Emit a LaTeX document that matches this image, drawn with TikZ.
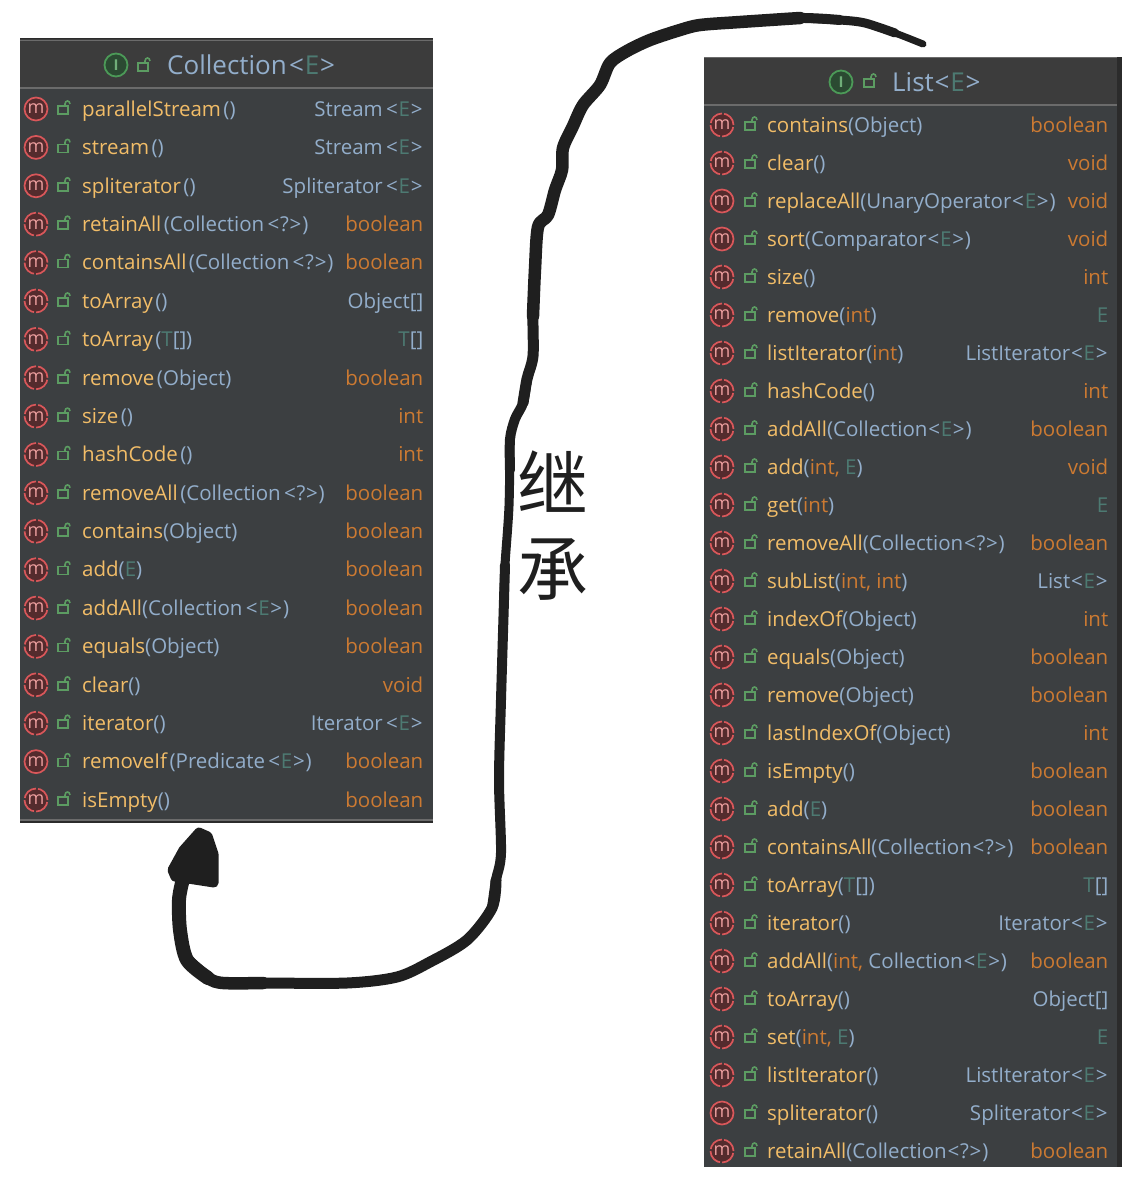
\documentclass[tikz,border=0pt]{standalone}
\usepackage{fontspec}
\setmainfont{Open Sans}
\newfontfamily\cjkfont{Noto Sans CJK SC}
\definecolor{hdrbg}{HTML}{3C3C3C}
\definecolor{bodybg}{HTML}{3C3F41}
\definecolor{rulegrey}{HTML}{6B6B6B}
\definecolor{edgedark}{HTML}{2B2B2B}
\definecolor{nmcol}{HTML}{F2BD68}
\definecolor{prcol}{HTML}{93AECB}
\definecolor{ecol}{HTML}{4D7A72}
\definecolor{rtcol}{HTML}{CC7A32}
\definecolor{ringred}{HTML}{D9575A}
\definecolor{fillred}{HTML}{542B2D}
\definecolor{mred}{HTML}{EC9E9E}
\definecolor{lockgreen}{HTML}{5C9C62}
\definecolor{ringgreen}{HTML}{4C9A58}
\definecolor{fillgreen}{HTML}{2B4A32}
\definecolor{inkblack}{HTML}{1F1F1F}
\newcommand{\nm}[1]{\textcolor{nmcol}{#1}}
\newcommand{\EE}{\textcolor{ecol}{E}}
\newcommand{\TT}{\textcolor{ecol}{T}}
\newcommand{\rt}[1]{\textcolor{rtcol}{#1}}
\newcommand{\ssp}{\kern2.5pt}
\newcommand{\LA}{\kern.8pt<\kern.8pt}
\newcommand{\RA}{\kern.8pt>\kern.8pt}
\newcommand{\lockat}[2]{%
  \draw[lockst] (#1-5,#2-2) rectangle (#1+5,#2+6);
  \draw[lockst] (#1+2,#2-2) -- (#1+2,#2-4) .. controls (#1+2,#2-8) and (#1+7,#2-8) .. (#1+7,#2-4);
}
\tikzset{
  x=1pt,y=-1pt,
  lockst/.style={draw=lockgreen,line width=1.6pt},
  panelbody/.style={fill=bodybg,draw=none},
  panelhead/.style={fill=hdrbg,draw=none},
  divider/.style={draw=rulegrey,line width=1.5pt},
  edgeline/.style={draw=edgedark,line width=1.5pt},
  rowtext/.style={anchor=base west,inner sep=0pt,text=prcol,font=\fontsize{20.5}{21}\selectfont},
  rettext/.style={anchor=base east,inner sep=0pt,text=prcol,font=\fontsize{20.5}{21}\selectfont},
  titletext/.style={inner sep=0pt,text=prcol,font=\fontsize{26}{26}\selectfont},
  mbase/.style={circle,minimum size=23pt,inner sep=0pt,fill=fillred,text=mred,font=\fontsize{18}{18}\selectfont,line width=1.7pt,draw=ringred},
  msolid/.style={mbase},
  mdash/.style={mbase,dash pattern=on 15.8pt off 2.2pt},
  ibadge/.style={circle,minimum size=23pt,inner sep=0pt,fill=fillgreen,draw=ringgreen,line width=1.8pt,text=ringgreen!80!white,font=\fontsize{15}{15}\selectfont\bfseries},
  inkline/.style={draw=inkblack,line cap=round,line join=round},
  wordtext/.style={inner sep=0pt,text=inkblack,align=center,font=\fontsize{71}{85}\cjkfont},
}
\begin{document}
\begin{tikzpicture}
\useasboundingbox (0,0) rectangle (1141,1187);
\fill[white] (0,0) rectangle (1141,1187);

% ---------- Collection panel
\fill[panelbody] (20,88) rectangle (433,822);
\fill[panelhead] (20,39) rectangle (433,88);
\draw[edgeline] (20,38.5) -- (433,38.5);
\draw[divider] (20,40.5) -- (433,40.5);
\draw[divider] (20,88) -- (433,88);
\draw[divider] (20,820) -- (433,820);
\draw[edgeline] (20,822) -- (433,822);
\node[ibadge] (cicon) at (116,65) {I};
\lockat{143}{65}
\node[titletext,anchor=base west] (ctitle) at (167,74.5) {Collection\kern1.5pt\LA\EE\RA};

\foreach \k/\t/\r [count=\i] in {
 msolid/{\nm{parallelStream}\ssp()}/{Stream\ssp\LA\EE\RA},
 msolid/{\nm{stream}\ssp()}/{Stream\ssp\LA\EE\RA},
 msolid/{\nm{spliterator}\ssp()}/{Spliterator\ssp\LA\EE\RA},
 mdash/{\nm{retainAll}\ssp(Collection\ssp\LA?\RA)}/\rt{boolean},
 mdash/{\nm{containsAll}\ssp(Collection\ssp\LA?\RA)}/\rt{boolean},
 mdash/{\nm{toArray}\ssp()}/{Object[]},
 mdash/{\nm{toArray}\ssp(\TT[])}/{\TT[]},
 mdash/{\nm{remove}\ssp(Object)}/\rt{boolean},
 mdash/{\nm{size}\ssp()}/\rt{int},
 mdash/{\nm{hashCode}\ssp()}/\rt{int},
 mdash/{\nm{removeAll}\ssp(Collection\ssp\LA?\RA)}/\rt{boolean},
 mdash/{\nm{contains}(Object)}/\rt{boolean},
 mdash/{\nm{add}(\EE)}/\rt{boolean},
 mdash/{\nm{addAll}(Collection\ssp\LA\EE\RA)}/\rt{boolean},
 mdash/{\nm{equals}(Object)}/\rt{boolean},
 mdash/{\nm{clear}()}/\rt{void},
 mdash/{\nm{iterator}()}/{Iterator\ssp\LA\EE\RA},
 msolid/{\nm{removeIf}\ssp(Predicate\ssp\LA\EE\RA)}/\rt{boolean},
 mdash/{\nm{isEmpty}()}/\rt{boolean}}
{
  \pgfmathsetmacro{\yy}{109+(\i-1)*38.39}
  \node[\k] (cm\i) at (36,\yy) {m};
  \lockat{63}{\yy-1}
  \node[rowtext] (ct\i) at (82,\yy+7.3) {\t};
  \node[rettext] (cr\i) at (423.5,\yy+7.3) {\r};
}

% ---------- List panel
\fill[edgedark] (1116,57) rectangle (1122,1167);
\fill[panelbody] (704,105) rectangle (1117,1167);
\fill[panelhead] (704,57) rectangle (1117,105);
\draw[divider] (704,57.5) -- (1117,57.5);
\draw[divider] (704,105) -- (1117,105);
\node[ibadge] (licon) at (841,82) {I};
\lockat{869}{81}
\node[titletext,anchor=base west] (ltitle) at (892,91.5) {List\LA\EE\RA};

\foreach \k/\t/\r [count=\i] in {
 mdash/{\nm{contains}(Object)}/\rt{boolean},
 mdash/{\nm{clear}()}/\rt{void},
 msolid/{\nm{replaceAll}(UnaryOperator\LA\EE\RA)}/\rt{void},
 msolid/{\nm{sort}(Comparator\LA\EE\RA)}/\rt{void},
 mdash/{\nm{size}()}/\rt{int},
 mdash/{\nm{remove}(\rt{int})}/\EE,
 mdash/{\nm{listIterator}(\rt{int})}/{ListIterator\LA\EE\RA},
 mdash/{\nm{hashCode}()}/\rt{int},
 mdash/{\nm{addAll}(Collection\LA\EE\RA)}/\rt{boolean},
 mdash/{\nm{add}(\rt{int,} \EE)}/\rt{void},
 mdash/{\nm{get}(\rt{int})}/\EE,
 mdash/{\nm{removeAll}(Collection\LA?\RA)}/\rt{boolean},
 mdash/{\nm{subList}(\rt{int, int})}/{List\LA\EE\RA},
 mdash/{\nm{indexOf}(Object)}/\rt{int},
 mdash/{\nm{equals}(Object)}/\rt{boolean},
 mdash/{\nm{remove}(Object)}/\rt{boolean},
 mdash/{\nm{lastIndexOf}(Object)}/\rt{int},
 mdash/{\nm{isEmpty}()}/\rt{boolean},
 mdash/{\nm{add}(\EE)}/\rt{boolean},
 mdash/{\nm{containsAll}(Collection\LA?\RA)}/\rt{boolean},
 mdash/{\nm{toArray}(\TT[])}/{\TT[]},
 mdash/{\nm{iterator}()}/{Iterator\LA\EE\RA},
 mdash/{\nm{addAll}(\rt{int,} Collection\LA\EE\RA)}/\rt{boolean},
 mdash/{\nm{toArray}()}/{Object[]},
 mdash/{\nm{set}(\rt{int,} \EE)}/\EE,
 mdash/{\nm{listIterator}()}/{ListIterator\LA\EE\RA},
 msolid/{\nm{spliterator}()}/{Spliterator\LA\EE\RA},
 mdash/{\nm{retainAll}(Collection\LA?\RA)}/\rt{boolean}}
{
  \pgfmathsetmacro{\yy}{125+(\i-1)*38}
  \node[\k] (lm\i) at (722,\yy) {m};
  \lockat{750}{\yy-1}
  \node[rowtext] (lt\i) at (767,\yy+7.3) {\t};
  \node[rettext] (lr\i) at (1108.5,\yy+7.3) {\r};
}

% ---------- label
\node[wordtext] (word) at (553,526) {继\\承};

% ---------- hand-drawn connector, List to Collection
\coordinate (strokestart) at (923,44);
\coordinate (strokebend) at (865,23);
\coordinate (strokeA) at (510,439);
\coordinate (strokeB) at (504,600);
\coordinate (strokeC) at (501,853);
\coordinate (strokeend) at (182,883);
\draw[inkline,line width=12.5pt] plot[smooth,tension=.5] coordinates {(800,18) (740,22) (700,25) (680,30) (650,40) (627,51) (610,63) (600,85) (583,105) (573,126) (563,148) (562,170) (555,190) (548,215) (538,227) (535,269) (533,316)};
\draw[inkline,line width=11pt] plot[smooth,tension=.5] coordinates {(535,269) (533,316) (533,356) (527,379) (523,403)};
\draw[inkline,line width=10pt] plot[smooth,tension=.5] coordinates {(840,20) (800,18) (740,22)};
\draw[inkline,line width=10pt] plot[smooth,tension=.5] coordinates {(527,379) (523,403) (515,419) (strokeA) (510,470)};
\draw[inkline,line width=9pt] plot[smooth,tension=.5] coordinates {(strokeA) (509,506) (505,565) (strokeB)};
\draw[inkline,line width=9pt] plot[smooth,tension=.5] coordinates {(895,33) (strokebend) (840,20) (800,18)};
\draw[inkline,line width=7pt] plot[smooth,tension=.5] coordinates {(strokestart) (895,33) (strokebend)};
\draw[inkline,line width=10pt] plot[smooth,tension=.5] coordinates {(505,565) (strokeB) (501,700) (499,780) (strokeC) (496,880) (492,908)};
\draw[inkline,line width=11pt] plot[smooth,tension=.5] coordinates {(496,880) (492,908) (467,940) (430,962) (397,977) (347,983) (263,983) (223,983) (208,978)};
\draw[inkline,line width=12.5pt] plot[smooth,tension=.5] coordinates {(263,983) (223,983) (208,978) (187,960)};
\draw[inkline,line width=14pt] plot[smooth,tension=.5] coordinates {(208,978) (187,960) (180,930) (179,900) (strokeend)};
\coordinate (tip) at (199,832);
\fill[inkblack,draw=inkblack,line width=9pt,line join=round] (tip) -- (208,836) -- (214,854) -- (214,883) -- (175,877) -- (172,870) -- (183,850) -- cycle;
\end{tikzpicture}
\end{document}
